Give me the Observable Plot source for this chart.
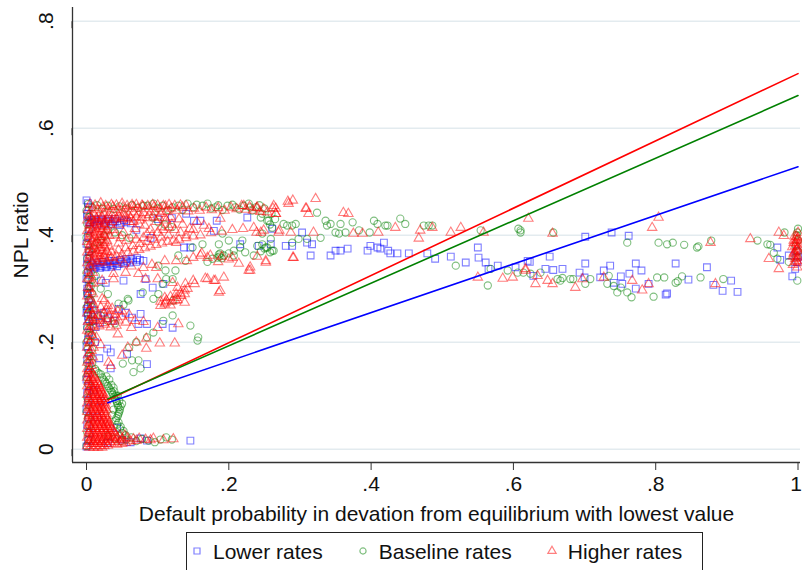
<!DOCTYPE html>
<html>
<head>
<meta charset="utf-8">
<script src="https://cdn.jsdelivr.net/npm/d3@7"></script>
<script src="https://cdn.jsdelivr.net/npm/@observablehq/plot@0.6"></script>
<style>
  html, body { margin: 0; padding: 0; background: #fff; overflow: hidden; }
  body { font-family: Arial, "Liberation Sans", sans-serif; color: #111; position: relative; width: 802px; height: 570px; }
  #legend {
    position: absolute; left: 186px; top: 532px; height: 44px;
    border: 1px solid #222; box-sizing: border-box;
    display: flex; align-items: flex-start;
    padding: 7px 20px 0 6px; font-size: 21px; white-space: nowrap;
  }
  #legend .item { display: flex; align-items: flex-start; margin-right: 36px; }
  #legend .item:last-child { margin-right: 0; }
  #legend svg { margin: 6px 12px 0 0; overflow: visible; }
</style>
</head>
<body>
<div id="chart"></div>
<div id="legend"></div>
<script>
/* ---- values ---- */
const seriesNames = ['Lower rates', 'Baseline rates', 'Higher rates'];
const xTicks = [0, .2, .4, .6, .8, 1];
const yTicks = [0, .2, .4, .6, .8];

// fitted lines: x range and fitted y at both ends
const fitX = [.03, 1];
const fitLower = [.087, .528];
const fitBaseline = [.094, .661];
const fitHigher = [.092, .702];

// Lower rates (blue squares), [x, y]
const lowerRates = [
  [0,.465],[.003,.452],[.001,.44],[.004,.412],[.002,.398],[0,.384],[.003,.37],[.001,.356],[.002,.33],[0,.318],
  [.003,.305],[.001,.292],[.004,.28],[.002,.268],[0,.255],[.003,.243],[.001,.23],[.004,.218],[.002,.205],[0,.192],
  [.003,.18],[.001,.168],[.004,.155],[.002,.142],[0,.13],[.003,.118],[.001,.105],[.002,.09],[0,.075],[.003,.06],
  [.001,.045],[.004,.03],[.002,.016],[0,.005],
  [.002,.46],[.001,.435],[.003,.425],[.004,.362],[.001,.345],[.003,.325],[.001,.3],[.002,.287],[.001,.262],[.002,.248],
  [.007,.428],[.012,.43],[.017,.426],[.022,.428],[.027,.425],[.032,.427],[.037,.424],[.043,.426],[.049,.423],[.056,.425],[.062,.422],
  [.005,.423],[.01,.424],[.015,.42],[.02,.43],[.025,.42],[.03,.43],[.035,.42],[.04,.43],[.047,.419],[.053,.428],
  [.005,.34],[.009,.344],[.013,.341],[.017,.345],[.021,.342],[.025,.346],[.029,.343],[.033,.347],[.037,.344],[.041,.348],
  [.045,.346],[.049,.35],[.053,.347],[.057,.351],[.061,.349],[.065,.353],[.07,.35],[.075,.354],[.08,.352],
  [.007,.347],[.015,.349],[.023,.35],[.031,.352],[.039,.352],[.047,.354],[.055,.355],[.063,.356],[.071,.357],
  [.011,.338],[.019,.339],[.027,.34],[.035,.341],[.043,.342],
  [.02,.315],[.027,.311],[.052,.315],[.083,.318],[.076,.29],[.093,.302],[.108,.309],[.137,.377],[.146,.377],[.179,.408],
  [.226,.433],[.216,.383],[.259,.383],[.16,.427],[.151,.427],[.183,.427],[.14,.44],[.12,.432],[.1,.43],[.09,.395],[.07,.41],
  [.006,.27],[.01,.26],[.016,.25],[.009,.24],[.019,.236],[.013,.228],[.024,.255],[.03,.245],[.038,.24],[.045,.262],
  [.055,.255],[.064,.246],[.076,.253],[.073,.234],[.085,.234],[.107,.234],[.121,.227],
  [.029,.188],[.034,.181],[.057,.178],[.085,.159],[.034,.151],[.012,.2],[.018,.17],[.043,.04],[.076,.02],[.146,.016],
  [.085,.016],[.062,.013],[.05,.018],[.03,.012],[.015,.06],[.02,.09],[.01,.11],
  [.261,.412],[.242,.38],[.28,.38],[.289,.38],[.303,.405],[.31,.386],[.317,.383],[.315,.362],[.343,.362],[.35,.371],
  [.357,.371],[.367,.375],[.395,.371],[.399,.38],[.409,.377],[.413,.375],[.418,.386],[.424,.371],[.427,.366],[.437,.366],
  [.453,.366],[.479,.366],[.49,.356],[.512,.36],[.533,.349],[.55,.377],[.551,.358],[.561,.349],[.565,.337],[.578,.343],
  [.603,.34],[.62,.352],
  [.701,.397],[.738,.405],[.762,.399],[.623,.35],[.651,.36],[.645,.337],[.656,.335],[.669,.337],[.628,.324],[.693,.33],
  [.701,.347],[.7,.321],[.722,.321],[.727,.334],[.736,.343],[.741,.311],[.751,.323],[.753,.309],[.763,.328],[.772,.347],
  [.78,.334],[.772,.3],[.79,.309],[.814,.289],[.816,.291],[.828,.347],[.846,.317],[.872,.34],[.881,.307],[.894,.296],
  [.906,.315],[.915,.294],[.971,.377],[.987,.362],[.975,.354],[.996,.337],[.992,.323],[.999,.35],[1,.36],[.998,.37]
];

// Baseline rates (green circles), [x, y]
const baselineRates = [
  [.002,.458],[0,.446],[.004,.434],[.001,.421],[.003,.408],[0,.395],[.002,.382],[.004,.369],[.001,.356],[.003,.343],
  [0,.33],[.002,.317],[.004,.304],[.001,.291],[.003,.278],[0,.265],[.002,.252],[.004,.239],[.001,.226],[.003,.213],
  [0,.2],[.002,.187],[.004,.174],[.001,.161],[.003,.148],[0,.135],[.002,.122],[.004,.109],[.001,.096],[.003,.083],
  [0,.07],[.002,.057],[.004,.044],[.001,.031],[.003,.018],[0,.006],
  [.006,.33],[.008,.317],[.006,.304],[.008,.291],[.006,.278],[.008,.265],[.006,.252],[.008,.239],[.006,.226],[.008,.213],
  [.006,.2],[.008,.187],[.006,.174],[.008,.161],
  [.012,.15],[.017,.142],[.022,.134],[.026,.126],[.03,.118],[.034,.11],[.037,.102],[.04,.094],[.043,.086],[.045,.078],
  [.046,.07],[.044,.062],[.041,.054],[.043,.046],[.047,.038],[.05,.03],[.028,.136],[.035,.12],[.039,.108],[.042,.1],
  [.046,.09],[.048,.08],[.038,.074],[.036,.064],
  [.014,.146],[.02,.14],[.024,.13],[.028,.122],[.032,.114],[.036,.106],[.039,.098],[.042,.09],[.044,.082],[.047,.074],
  [.045,.066],[.042,.058],[.045,.05],[.048,.042],[.052,.034],[.055,.026],[.032,.13],[.038,.115],[.044,.1],[.05,.085],
  [.04,.02],[.048,.015],[.056,.018],[.063,.022],[.07,.015],[.078,.019],[.087,.016],[.096,.013],[.104,.018],[.112,.022],[.12,.018],[.03,.025],
  [.008,.452],[.015,.456],[.022,.45],[.03,.455],[.038,.449],[.046,.454],[.055,.45],[.064,.456],[.072,.451],[.08,.455],
  [.086,.455],[.094,.459],[.107,.455],[.121,.452],[.129,.455],[.142,.459],[.15,.452],[.163,.455],[.17,.459],[.181,.452],
  [.191,.447],[.198,.455],[.209,.452],[.221,.455],[.228,.459],[.238,.452],[.247,.44],[.256,.427],[.261,.414],[.23,.452],
  [.245,.433],[.254,.427],
  [.1,.45],[.115,.447],[.135,.447],[.155,.457],[.175,.45],[.185,.456],[.205,.457],[.215,.448],[.233,.446],[.243,.456],
  [.25,.45],[.26,.44],[.265,.43],[.258,.42],
  [.015,.386],[.02,.39],[.025,.398],[.01,.375],[.03,.41],[.04,.405],[.05,.4],[.06,.395],[.093,.433],[.101,.424],
  [.11,.42],[.12,.415],[.191,.403],[.2,.39],[.219,.39],[.24,.38],[.247,.403],[.254,.377],[.149,.377],[.163,.383],
  [.129,.362],[.139,.352],[.125,.334],[.111,.334],[.101,.343],[.17,.35],[.177,.356],[.184,.358],[.187,.36],[.19,.357],
  [.186,.364],[.193,.362],[.2,.366],[.207,.362],[.223,.368],[.235,.362],[.186,.383],[.188,.366],[.207,.371],[.216,.377],
  [.263,.371],[.121,.318],[.112,.318],[.107,.309],[.079,.293],[.059,.278],[.052,.27],[.013,.324],[.02,.3],[.03,.29],
  [.045,.272],[.058,.281],[.094,.281],[.101,.29],[.122,.278],[.121,.25],[.108,.24],[.146,.231],[.157,.209],[.156,.203],
  [.051,.16],[.064,.166],[.066,.144],[.076,.151],[.073,.166],[.094,.218],[.085,.209],[.07,.2],[.06,.19],[.02,.25],
  [.03,.24],[.04,.235],
  [.247,.383],[.252,.377],[.261,.371],[.259,.393],[.245,.37],[.25,.375],[.258,.368],[.277,.421],[.282,.418],[.289,.418],
  [.294,.421],[.289,.386],[.298,.393],[.31,.393],[.324,.442],[.329,.395],[.336,.427],[.338,.418],[.343,.421],[.35,.405],
  [.355,.403],[.357,.421],[.364,.405],[.374,.424],[.383,.409],[.398,.405],[.404,.427],[.409,.421],[.42,.418],[.423,.418],
  [.441,.431],[.448,.421],[.474,.418],[.481,.418],[.486,.418],[.519,.343],[.554,.409],[.564,.306],[.568,.337],[.592,.334],
  [.606,.33],[.607,.412],[.61,.405],[.624,.328],
  [.61,.409],[.656,.405],[.76,.386],[.804,.386],[.816,.383],[.824,.386],[.84,.382],[.858,.377],[.86,.379],[.878,.39],
  [.943,.39],[.957,.383],[.961,.382],[.966,.367],[.971,.356],[.981,.405],[1,.412],[.999,.315],[.614,.33],[.638,.33],
  [.662,.318],[.666,.315],[.669,.32],[.68,.318],[.684,.318],[.701,.309],[.708,.318],[.732,.309],[.734,.324],[.741,.305],
  [.746,.293],[.751,.302],[.76,.293],[.766,.284],[.802,.321],[.812,.321],[.828,.311],[.831,.314],[.837,.323],[.863,.321],
  [.797,.285],[.895,.318],[.998,.4],[1,.39],[.999,.405],[.997,.38],[.987,.35],[1,.37],[.998,.36]
];

// Higher rates (red triangles), [x, y]
const higherRates = [
  [.001,.15],[.005,.15],[.002,.142],[.008,.142],[.001,.134],[.007,.134],[.012,.134],[.003,.126],[.009,.126],[.015,.126],
  [.001,.118],[.007,.118],[.013,.118],[.018,.118],[.003,.11],[.009,.11],[.015,.11],[.02,.11],
  [.001,.102],[.007,.102],[.013,.102],[.019,.102],[.023,.102],[.003,.094],[.009,.094],[.015,.094],[.021,.094],[.025,.094],
  [.001,.086],[.007,.086],[.013,.086],[.019,.086],[.025,.086],[.003,.078],[.009,.078],[.015,.078],[.021,.078],[.026,.078],
  [.001,.07],[.007,.07],[.013,.07],[.019,.07],[.025,.07],[.003,.062],[.009,.062],[.015,.062],[.021,.062],[.027,.062],
  [.001,.054],[.007,.054],[.013,.054],[.019,.054],[.025,.054],[.029,.054],[.003,.046],[.009,.046],[.015,.046],[.021,.046],
  [.027,.046],[.031,.046],[.001,.038],[.007,.038],[.013,.038],[.019,.038],[.025,.038],[.031,.038],[.035,.038],
  [.003,.03],[.009,.03],[.015,.03],[.021,.03],[.027,.03],[.033,.03],[.039,.03],
  [.001,.022],[.007,.022],[.013,.022],[.019,.022],[.025,.022],[.031,.022],[.037,.022],[.043,.022],[.05,.02],[.058,.021],
  [.066,.019],[.074,.02],[.083,.018],[.094,.02],[.108,.017],[.122,.019],
  [.003,.014],[.009,.014],[.015,.014],[.021,.014],[.027,.014],[.033,.014],[.04,.013],[.047,.014],[.055,.012],[.062,.015],
  [.001,.006],[.007,.006],[.013,.006],[.019,.006],[.025,.006],[.03,.007],
  [.003,.146],[.004,.138],[.01,.138],[.004,.13],[.01,.13],[.005,.122],[.011,.122],[.016,.122],
  [.004,.114],[.01,.114],[.016,.114],[.02,.114],[.005,.106],[.011,.106],[.017,.106],[.022,.106],
  [.004,.098],[.01,.098],[.016,.098],[.022,.098],[.026,.098],[.005,.09],[.011,.09],[.017,.09],[.023,.09],[.027,.09],
  [.004,.082],[.01,.082],[.016,.082],[.022,.082],[.027,.082],[.005,.074],[.011,.074],[.017,.074],[.023,.074],[.028,.074],
  [.004,.066],[.01,.066],[.016,.066],[.022,.066],[.028,.066],[.005,.058],[.011,.058],[.017,.058],[.023,.058],[.029,.058],
  [.004,.05],[.01,.05],[.016,.05],[.022,.05],[.028,.05],[.032,.05],[.005,.042],[.011,.042],[.017,.042],[.023,.042],
  [.029,.042],[.034,.042],[.004,.034],[.01,.034],[.016,.034],[.022,.034],[.028,.034],[.034,.034],[.038,.034],
  [.005,.026],[.011,.026],[.017,.026],[.023,.026],[.029,.026],[.035,.026],[.041,.026],[.047,.026],[.054,.026],
  [.005,.018],[.011,.018],[.017,.018],[.023,.018],[.029,.018],[.035,.018],[.042,.018],[.05,.017],[.07,.016],[.09,.017],
  [.004,.01],[.01,.01],[.016,.01],[.022,.01],[.028,.01],[.035,.01],[.043,.009],[.05,.01],[.004,.003],[.01,.003],[.016,.003],[.022,.003],
  [.001,.162],[.006,.168],[.002,.176],[.007,.184],[.001,.19],[.005,.198],[.002,.206],[.007,.214],[.001,.222],[.005,.23],
  [.002,.238],[.007,.246],[.001,.254],[.005,.262],[.002,.27],[.007,.278],[.001,.286],[.005,.294],[.002,.302],[.007,.31],
  [.001,.318],[.005,.326],[.002,.334],[.007,.34],
  [.004,.165],[.009,.172],[.004,.18],[.01,.19],[.004,.2],[.009,.21],[.004,.22],[.01,.228],[.004,.24],[.009,.25],
  [.004,.26],[.01,.27],[.004,.28],[.009,.29],[.004,.3],[.01,.31],[.004,.32],[.009,.33],[.004,.342],
  [.012,.262],[.02,.265],[.028,.26],[.036,.263],[.044,.258],[.008,.252],[.016,.25],[.024,.254],[.032,.249],[.04,.252],
  [.05,.248],[.06,.251],[.012,.242],[.02,.24],[.028,.243],[.036,.238],[.045,.241],[.055,.237],[.068,.24],[.08,.238],
  [.01,.232],[.018,.23],[.026,.233],[.034,.228],[.042,.231],[.016,.245],[.024,.236],[.04,.245],[.05,.258],[.03,.268],
  [.104,.268],[.11,.271],[.118,.269],[.104,.276],[.112,.278],[.12,.276],[.128,.279],[.11,.283],[.118,.285],[.126,.283],
  [.133,.287],[.126,.29],[.132,.292],[.138,.29],[.138,.297],[.142,.3],
  [.063,.227],[.084,.207],[.103,.198],[.124,.198],[.129,.234],[.138,.274],[.084,.188],[.014,.209],[.007,.156],[.031,.162],
  [.058,.19],[.07,.2],[.1,.227],[.034,.156],[.022,.281],[.031,.259],[.044,.215],[.02,.195],[.05,.175],
  [.022,.315],[.038,.318],[.055,.33],[.083,.318],[.1,.318],[.121,.311],[.128,.302],[.139,.309],[.15,.315],[.17,.318],
  [.181,.315],[.193,.321],[.188,.296],[.186,.293],[.167,.319],[.179,.315],[.125,.278],[.111,.274],[.152,.309],[.038,.328],
  [.073,.328],[.025,.278],
  [.001,.348],[.008,.35],[.015,.347],[.022,.351],[.029,.349],[.004,.358],[.011,.36],[.018,.357],[.025,.361],[.032,.359],
  [.001,.368],[.008,.37],[.015,.367],[.022,.371],[.029,.369],[.004,.378],[.011,.38],[.018,.377],[.025,.381],[.032,.379],
  [.001,.388],[.008,.39],[.015,.387],[.022,.391],[.029,.389],[.004,.398],[.011,.4],[.018,.397],[.025,.401],[.032,.399],
  [.001,.408],[.008,.41],[.015,.407],[.022,.411],[.029,.409],[.004,.418],[.011,.42],[.018,.417],[.025,.421],[.032,.419],
  [.001,.428],[.008,.43],[.015,.427],[.022,.431],[.029,.429],
  [.005,.353],[.012,.355],[.019,.352],[.026,.356],[.005,.363],[.012,.365],[.019,.362],[.026,.366],
  [.005,.373],[.012,.375],[.019,.372],[.026,.376],[.005,.383],[.012,.385],[.019,.382],[.026,.386],
  [.005,.393],[.012,.395],[.019,.392],[.026,.396],[.005,.403],[.012,.405],[.019,.402],[.026,.406],
  [.005,.413],[.012,.415],[.019,.412],[.026,.416],[.005,.423],[.012,.425],[.019,.422],[.026,.426],
  [.003,.437],[.01,.44],[.017,.436],[.024,.441],[.031,.438],[.038,.442],[.045,.437],[.052,.441],[.059,.438],[.066,.443],
  [.073,.439],[.08,.442],[.088,.438],[.096,.443],[.104,.44],[.112,.444],
  [.002,.448],[.009,.451],[.016,.447],[.023,.452],[.03,.449],[.037,.453],[.044,.448],[.051,.452],[.058,.449],[.065,.453],
  [.072,.45],[.079,.454],[.087,.449],[.095,.453],[.103,.45],[.111,.454],[.119,.45],
  [.005,.458],[.02,.46],[.035,.457],[.05,.459],[.07,.457],
  [.006,.433],[.014,.432],[.022,.434],[.03,.433],[.038,.432],[.046,.434],[.054,.433],[.062,.432],[.07,.434],[.078,.433],
  [.086,.432],[.094,.434],[.102,.433],[.11,.432],[.118,.434],
  [.012,.456],[.027,.455],[.042,.456],[.057,.455],[.064,.457],[.078,.456],[.086,.455],[.093,.457],[.1,.456],[.108,.455],
  [.116,.457],[.124,.455],[.132,.456],[.14,.455],
  [.127,.446],[.135,.452],[.143,.445],[.151,.45],[.159,.446],[.168,.452],[.176,.447],[.185,.451],[.194,.446],[.203,.452],
  [.211,.449],[.218,.455],[.224,.448],[.229,.453],[.234,.446],[.239,.451],[.244,.444],[.249,.449],[.254,.443],[.262,.45],
  [.221,.455],[.266,.44],
  [.035,.358],[.042,.361],[.05,.364],[.058,.367],[.066,.37],[.074,.373],[.082,.376],[.09,.379],[.098,.382],[.106,.385],
  [.114,.388],[.122,.39],[.13,.392],[.14,.395],[.15,.398],[.16,.4],[.175,.404],[.19,.407],[.205,.41],[.22,.412],[.235,.414],
  [.035,.368],[.045,.372],[.055,.376],[.065,.38],[.075,.384],[.085,.388],[.095,.392],[.105,.396],[.115,.4],
  [.038,.41],[.045,.42],[.052,.405],[.06,.425],[.068,.412],[.075,.428],[.082,.418],[.09,.41],[.098,.425],[.105,.415],
  [.112,.428],[.048,.395],[.065,.4],[.085,.402],[.126,.386],[.14,.4],[.15,.41],[.145,.412],[.165,.418],[.172,.412],
  [.188,.431],[.12,.42],[.13,.43],
  [.036,.425],[.042,.43],[.05,.432],[.058,.43],[.066,.425],[.074,.42],[.04,.4],[.045,.385],[.056,.39],[.07,.392],
  [.08,.395],[.092,.4],[.1,.405],[.108,.41],[.116,.415],[.124,.41],[.132,.405],[.135,.42],[.155,.425],[.04,.35],[.048,.355],
  [.08,.339],[.098,.339],[.11,.352],[.126,.352],[.141,.352],[.15,.358],[.162,.366],[.16,.362],[.174,.362],[.214,.347],
  [.228,.334],[.252,.349],[.23,.34],[.2,.355],[.185,.35],[.19,.36],[.205,.358],[.24,.36],[.17,.358],[.053,.347],
  [.092,.345],[.063,.342],
  [.24,.452],[.263,.455],[.29,.465],[.322,.468],[.308,.45],[.312,.44],[.284,.459],[.361,.442],[.368,.44],[.27,.405],
  [.287,.405],[.245,.405],[.319,.405],[.375,.403],[.388,.403],[.41,.405],[.434,.414],[.469,.409],[.486,.414],[.467,.394],
  [.512,.405],[.526,.414],[.558,.405],[.29,.358],[.252,.352],[.23,.334],[.55,.321],[.585,.319],[.599,.321],[.617,.334],
  [.283,.463],[.309,.45],[.266,.45],[.266,.44],[.239,.405],[.249,.409],[.271,.409],[.291,.358],
  [.621,.431],[.655,.403],[.804,.433],[.795,.414],[.877,.386],[.933,.393],[.973,.405],[.98,.399],[.959,.356],[.973,.337],
  [.617,.337],[.634,.324],[.631,.309],[.648,.315],[.655,.309],[.687,.302],[.697,.318],[.727,.321],[.767,.315],[.781,.297],
  [.79,.309],[.884,.309],[.994,.386],
  [.993,.345],[.998,.352],[1,.36],[.995,.368],[.999,.375],[1,.383],[.994,.39],[.998,.397],[1,.405],[.996,.362],
  [.999,.34],[.997,.385],[1,.37],[.992,.378],[.996,.356],[1,.348],[.998,.39],
  [.996,.35],[.999,.358],[.994,.366],[.998,.372],[1,.378],[.996,.38],[.999,.392],[.995,.398],[1,.395],[.993,.36]
];

/* ---- chart ---- */
const colors = ['#0000ff', '#008000', '#ff0000'];
const symbols = ['square', 'circle', 'triangle'];
const markerR = [3.8, 3.6, 3.5];
const fits = [fitLower, fitBaseline, fitHigher];
const pointSets = [lowerRates, baselineRates, higherRates];

const xDomain = [-.0197, 1.0035];
const yDomain = [-.0249, .8256];
const fmt = d => String(d).replace(/^0\./, '.');
const lastX = xTicks[xTicks.length - 1];

const marks = [
  Plot.gridY(yTicks, { stroke: '#e3ebef', strokeOpacity: 1, strokeWidth: 1.5 })
];
pointSets.forEach((pts, i) => {
  marks.push(Plot.dot(pts, {
    x: d => d[0], y: d => d[1], symbol: symbols[i], r: markerR[i],
    stroke: colors[i], strokeOpacity: 0.5, strokeWidth: 1.1, fill: 'none'
  }));
});
[2, 1, 0].forEach(i => {
  marks.push(Plot.line(fitX.map((x, k) => ({ x, y: fits[i][k] })), {
    x: 'x', y: 'y', stroke: colors[i], strokeWidth: 1.6
  }));
});
marks.push(
  Plot.ruleX([xDomain[0]], { stroke: '#333', strokeWidth: 1.3 }),
  Plot.ruleY([yDomain[0]], { stroke: '#333', strokeWidth: 1.3 }),
  Plot.axisX(xTicks, {
    tickFormat: d => (d === lastX ? '' : fmt(d)), tickSize: 8, tickPadding: 6, stroke: '#333',
    label: 'Default probability in devation from equilibrium with lowest value',
    labelAnchor: 'center', labelOffset: 58, labelArrow: 'none'
  }),
  // the last tick label sits at the right edge: keep it inside the picture
  Plot.text([lastX], {
    x: d => d, text: d => fmt(d), frameAnchor: 'bottom',
    textAnchor: 'end', lineAnchor: 'top', dx: 4, dy: 14, fontSize: 21, fill: '#111'
  }),
  Plot.axisY(yTicks, {
    tickFormat: fmt, tickSize: 7, tickPadding: 19, stroke: '#333',
    rotate: -90, textAnchor: 'middle', lineAnchor: 'middle',
    label: 'NPL ratio', labelAnchor: 'center', labelOffset: 59, labelArrow: 'none'
  })
);

const chart = Plot.plot({
  width: 802, height: 528,
  marginLeft: 72, marginRight: 2, marginTop: 7, marginBottom: 66,
  style: {
    fontFamily: 'Arial, "Liberation Sans", sans-serif',
    fontSize: '21px', color: '#111', background: '#fff', overflow: 'visible'
  },
  x: { domain: xDomain },
  y: { domain: yDomain },
  marks
});
document.getElementById('chart').appendChild(chart);

/* ---- legend ---- */
const legend = d3.select('#legend');
const legendSym = [d3.symbolSquare, d3.symbolCircle, d3.symbolTriangle];
const legendSize = [36, 30, 30];
seriesNames.forEach((name, i) => {
  const item = legend.append('div').attr('class', 'item');
  item.append('svg').attr('width', 8).attr('height', 10)
    .append('path')
    .attr('transform', 'translate(4,5)')
    .attr('d', d3.symbol(legendSym[i], legendSize[i])())
    .attr('fill', 'none').attr('stroke', colors[i])
    .attr('stroke-opacity', 0.5).attr('stroke-width', 1.2);
  item.append('span').text(name);
});
</script>
</body>
</html>
